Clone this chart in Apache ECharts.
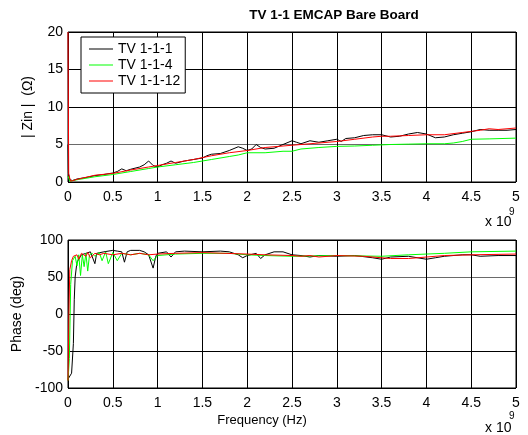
<!DOCTYPE html>
<html><head><meta charset="utf-8">
<script src="https://cdn.jsdelivr.net/npm/echarts@6/dist/echarts.min.js"></script>
<style>html,body{margin:0;padding:0;background:#fff}#c{width:528px;height:435px}</style>
</head><body><div id="c"></div>
<script>
// Frequency in units of 1e9 Hz
var seriesNames = ['TV 1-1-1', 'TV 1-1-4', 'TV 1-1-12'];
var xTicks = [0, 0.5, 1, 1.5, 2, 2.5, 3, 3.5, 4, 4.5, 5];

var zinBlackF = [0,0.005,0.02,0.05,0.1,0.2,0.3,0.4,0.5,0.55,0.6,0.65,0.7,0.8,0.85,0.9,0.95,1.0,1.05,1.1,1.15,1.2,1.3,1.4,1.5,1.55,1.6,1.7,1.8,1.9,1.95,2.0,2.05,2.1,2.15,2.2,2.3,2.4,2.5,2.55,2.6,2.7,2.8,2.9,3.0,3.05,3.1,3.2,3.3,3.4,3.5,3.6,3.7,3.8,3.9,4.0,4.1,4.2,4.3,4.4,4.5,4.6,4.7,4.8,4.9,5.0];
var zinBlackV = [5.0,1.2,0.3,0.2,0.4,0.6,0.85,1.0,1.2,1.4,1.75,1.5,1.7,2.0,2.3,2.8,2.2,2.0,2.3,2.5,2.8,2.5,2.8,3.0,3.2,3.5,3.7,3.8,4.2,4.7,4.5,4.2,4.4,5.0,4.6,4.4,4.5,5.0,5.5,5.3,5.1,5.5,5.3,5.5,5.7,5.4,5.8,5.9,6.2,6.3,6.3,6.0,6.1,6.4,6.6,6.4,5.9,6.0,6.3,6.5,6.7,7.0,6.9,6.9,6.9,7.0];

var zinGreenF = [0,0.02,0.1,0.3,0.5,0.7,0.9,1.0,1.2,1.4,1.6,1.8,1.9,2.0,2.2,2.4,2.5,2.6,2.8,3.0,3.2,3.4,3.6,3.8,4.0,4.2,4.3,4.4,4.5,4.7,5.0];
var zinGreenV = [0.8,0.1,0.3,0.7,1.0,1.4,1.8,2.0,2.3,2.6,3.0,3.4,3.6,3.9,3.9,4.1,4.1,4.4,4.6,4.75,4.8,4.9,5.0,5.05,5.1,5.1,5.2,5.4,5.7,5.75,5.85];

var zinRedF = [0,0.008,0.03,0.1,0.3,0.5,0.7,0.9,1.0,1.2,1.4,1.6,1.8,2.0,2.2,2.4,2.6,2.8,3.0,3.2,3.4,3.5,3.6,3.8,4.0,4.2,4.4,4.5,4.6,4.7,4.8,5.0];
var zinRedV = [20,1.0,0.1,0.35,0.9,1.15,1.6,2.0,2.2,2.6,3.0,3.5,3.9,4.2,4.6,4.8,5.0,5.2,5.4,5.7,6.0,6.1,6.1,6.2,6.3,6.3,6.6,6.75,6.9,7.1,7.0,7.2];

var phBlackF = [0,0.02,0.04,0.06,0.07,0.08,0.1,0.15,0.2,0.25,0.3,0.32,0.4,0.5,0.55,0.6,0.63,0.66,0.7,0.8,0.85,0.9,0.95,0.98,1.0,1.1,1.15,1.2,1.3,1.5,1.7,1.8,1.9,1.95,2.0,2.1,2.15,2.2,2.3,2.4,2.5,2.6,2.7,2.8,3.0,3.2,3.4,3.5,3.6,3.8,4.0,4.1,4.2,4.4,4.5,4.6,4.8,5.0];
var phBlackV = [-88,-87,-80,-40,20,50,70,80,82,84,68,82,84,86,85,84,70,84,86,86,84,80,62,78,82,84,77,84,85,84,85,84,80,76,79,82,75,80,84,84,80,79,77,79,78,79,76,74,77,78,74,76,78,80,80,78,79,79];

var phGreenF = [0,0.015,0.03,0.05,0.08,0.1,0.12,0.14,0.16,0.18,0.2,0.22,0.24,0.27,0.3,0.35,0.38,0.42,0.45,0.5,0.55,0.6,0.7,0.8,0.9,0.95,1.0,1.2,1.5,1.8,2.0,2.2,2.5,3.0,3.5,3.8,4.0,4.2,4.5,5.0];
var phGreenV = [-90,-60,40,72,78,65,80,52,80,64,82,58,80,82,78,83,72,84,68,83,72,82,80,82,80,72,79,81,82,82,80,79,78,79,78,80,81,82,84,85];

var phRedF = [0,0.01,0.02,0.04,0.06,0.1,0.12,0.15,0.2,0.22,0.25,0.3,0.35,0.4,0.5,0.6,0.7,0.8,0.9,1.0,1.2,1.5,2.0,2.2,2.5,2.6,2.7,2.8,3.0,3.3,3.5,3.6,3.8,4.0,4.2,4.5,5.0];
var phRedV = [-90,0,60,72,78,80,74,82,78,83,76,82,80,82,80,82,80,82,80,81,82,83,81,80,79,78,79,77,79,78,76,75,75,77,79,80,81];

function pairs(f, v) { return f.map(function (x, i) { return [x, v[i]]; }); }

var FONT = 'Liberation Sans, Arial, sans-serif';
var colors = ['#000000', '#00ff00', '#ff0000'];

function xAxisCfg(gi) {
  return {
    type: 'value', gridIndex: gi, min: 0, max: 5, interval: 0.5,
    axisLine: { show: false }, axisTick: { show: false },
    axisLabel: { color: '#000', fontFamily: FONT, fontSize: 14, margin: 8,
      formatter: function (v) { return String(Math.round(v * 10) / 10); } },
    splitLine: { show: true, lineStyle: { color: '#000', width: 1 } }
  };
}
function yAxisCfg(gi, min, max, interval, name, lineColors) {
  return {
    type: 'value', gridIndex: gi, min: min, max: max, interval: interval,
    axisLine: { show: false }, axisTick: { show: false },
    axisLabel: { color: '#000', fontFamily: FONT, fontSize: 14, margin: 5 },
    splitLine: { show: true, lineStyle: { color: lineColors, width: 1 } },
    name: name, nameLocation: 'middle', nameGap: 33,
    nameTextStyle: { color: '#000', fontFamily: FONT, fontSize: 14 }
  };
}
function lineSeries(name, xi, yi, data, color) {
  return { name: name, type: 'line', xAxisIndex: xi, yAxisIndex: yi, data: data,
    showSymbol: false, symbol: 'none', animation: false,
    lineStyle: { color: color, width: 1 }, itemStyle: { color: color } };
}

var chart = echarts.init(document.getElementById('c'), null, { renderer: 'canvas' });
chart.setOption({
  backgroundColor: '#fff',
  animation: false,
  grid: [
    { left: 68, top: 32, width: 448, height: 150, show: true, borderColor: '#000', borderWidth: 1, backgroundColor: 'transparent' },
    { left: 68, top: 240, width: 448, height: 148, show: true, borderColor: '#000', borderWidth: 1, backgroundColor: 'transparent' }
  ],
  xAxis: [xAxisCfg(0), xAxisCfg(1)],
  yAxis: [
    yAxisCfg(0, 0, 20, 5, '| Zin |  (\u03A9)', ['#000', '#6a6a6a', '#000', '#000', '#000']),
    yAxisCfg(1, -100, 100, 50, 'Phase (deg)', ['#000', '#000', '#000', '#6a6a6a', '#000'])
  ],
  legend: {
    data: seriesNames.map(function (n) { return { name: n, icon: 'rect' }; }),
    orient: 'vertical', left: 81, top: 37,
    backgroundColor: '#fff', borderColor: '#000', borderWidth: 1, borderRadius: 0,
    padding: [4, 5, 4, 8], itemWidth: 24, itemHeight: 1, itemGap: 0,
    textStyle: { color: '#000', fontFamily: FONT, fontSize: 14, lineHeight: 16 },
    selectedMode: false
  },
  series: [
    lineSeries(seriesNames[0], 0, 0, pairs(zinBlackF, zinBlackV), colors[0]),
    lineSeries(seriesNames[1], 0, 0, pairs(zinGreenF, zinGreenV), colors[1]),
    lineSeries(seriesNames[2], 0, 0, pairs(zinRedF, zinRedV), colors[2]),
    lineSeries(seriesNames[0], 1, 1, pairs(phBlackF, phBlackV), colors[0]),
    lineSeries(seriesNames[1], 1, 1, pairs(phGreenF, phGreenV), colors[1]),
    lineSeries(seriesNames[2], 1, 1, pairs(phRedF, phRedV), colors[2])
  ],
  graphic: [
    { type: 'text', style: { text: 'TV 1-1 EMCAP Bare Board', x: 334, y: 8, textAlign: 'center', fill: '#000', font: 'bold 13.5px ' + FONT } },
    { type: 'text', style: { text: 'x 10', x: 485, y: 215, fill: '#000', font: '14px ' + FONT } },
    { type: 'text', style: { text: '9', x: 509, y: 207, fill: '#000', font: '10px ' + FONT } },
    { type: 'text', style: { text: 'x 10', x: 485, y: 421, fill: '#000', font: '14px ' + FONT } },
    { type: 'text', style: { text: '9', x: 509, y: 411, fill: '#000', font: '10px ' + FONT } },
    { type: 'text', style: { text: 'Frequency (Hz)', x: 262, y: 414, textAlign: 'center', fill: '#000', font: '13px ' + FONT } }
  ]
});
</script></body></html>
